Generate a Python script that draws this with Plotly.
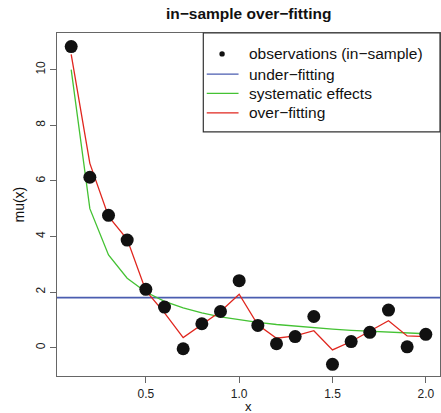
import plotly.graph_objects as go

x_vals = [0.1, 0.2, 0.3, 0.4, 0.5, 0.6, 0.7, 0.8, 0.9, 1.0,
          1.1, 1.2, 1.3, 1.4, 1.5, 1.6, 1.7, 1.8, 1.9, 2.0]
observations = [10.83, 6.13, 4.76, 3.87, 2.10, 1.46, -0.04, 0.86, 1.30, 2.41,
                0.80, 0.14, 0.40, 1.12, -0.60, 0.22, 0.55, 1.35, 0.03, 0.48]
systematic = [10.0, 5.0, 3.333, 2.5, 2.0, 1.667, 1.429, 1.25, 1.111, 1.0,
              0.909, 0.833, 0.769, 0.714, 0.667, 0.625, 0.588, 0.556, 0.526, 0.5]
over_fit = [10.55, 6.63, 4.72, 3.90, 2.05, 1.25, 0.36, 0.82, 1.30, 1.92,
            0.82, 0.34, 0.42, 0.61, -0.08, 0.22, 0.61, 0.97, 0.42, 0.40]
under_fit_level = 1.80
x_ticks = [0.5, 1.0, 1.5, 2.0]
y_ticks = [0, 2, 4, 6, 8, 10]
legend_labels = ["observations (in\u2212sample)", "under\u2212fitting",
                 "systematic effects", "over\u2212fitting"]

FONT = "Liberation Sans, Arial, Helvetica, sans-serif"
BLUE = "#4a5db0"
GREEN = "#44c233"
RED = "#e0261e"
legend_colors = [None, BLUE, GREEN, RED]

fig = go.Figure()
fig.add_trace(go.Scatter(x=[0.024, 2.076], y=[under_fit_level, under_fit_level],
                         mode="lines", line=dict(color=BLUE, width=1.6),
                         name=legend_labels[1], showlegend=False))
fig.add_trace(go.Scatter(x=x_vals, y=systematic, mode="lines",
                         line=dict(color=GREEN, width=1.3),
                         name=legend_labels[2], showlegend=False))
fig.add_trace(go.Scatter(x=x_vals, y=over_fit, mode="lines",
                         line=dict(color=RED, width=1.3),
                         name=legend_labels[3], showlegend=False))
fig.add_trace(go.Scatter(x=x_vals, y=observations, mode="markers",
                         marker=dict(color="#111111", size=13),
                         name=legend_labels[0], showlegend=False))

axis_common = dict(showline=True, linecolor="#666666", linewidth=1.3, mirror=True,
                   ticks="outside", ticklen=6, tickcolor="#666666", tickwidth=1.3,
                   showgrid=False, zeroline=False,
                   tickfont=dict(family=FONT, size=12, color="#222222"))

# manual legend (box, keys, labels) in paper coordinates
row_y = [0.939, 0.880, 0.824, 0.767]
shapes = [dict(type="rect", xref="paper", yref="paper",
               x0=0.382, x1=1.0, y0=0.712, y1=1.0,
               line=dict(color="#333333", width=1.2))]
annotations = []
for i, (lab, col) in enumerate(zip(legend_labels, legend_colors)):
    if col is None:
        shapes.append(dict(type="circle", xref="paper", yref="paper",
                           xsizemode="pixel", ysizemode="pixel",
                           xanchor=0.431, yanchor=row_y[i],
                           x0=-2.7, x1=2.7, y0=-2.7, y1=2.7,
                           fillcolor="#111111", line=dict(width=0)))
    else:
        shapes.append(dict(type="line", xref="paper", yref="paper",
                           x0=0.391, x1=0.474, y0=row_y[i], y1=row_y[i],
                           line=dict(color=col, width=1.3)))
    annotations.append(dict(text=lab, xref="paper", yref="paper", x=0.495, y=row_y[i],
                            xanchor="left", yanchor="middle", showarrow=False,
                            font=dict(family=FONT, size=15.5, color="#111111")))

annotations += [
    dict(text="<b>in\u2212sample over\u2212fitting</b>", xref="paper", yref="paper",
         x=0.5, y=1, yshift=20, xanchor="center", yanchor="middle", showarrow=False,
         font=dict(family=FONT, size=15.5, color="#111111")),
    dict(text="x", xref="paper", yref="paper", x=0.5, y=0, yshift=-30,
         xanchor="center", yanchor="middle", showarrow=False,
         font=dict(family=FONT, size=13, color="#111111")),
    dict(text="mu(x)", xref="paper", yref="paper", x=0, y=0.5, xshift=-39,
         xanchor="center", yanchor="middle", textangle=-90, showarrow=False,
         font=dict(family=FONT, size=14, color="#111111")),
]

fig.update_layout(
    width=441, height=413,
    margin=dict(l=57, r=1, t=33, b=37),
    plot_bgcolor="white", paper_bgcolor="white",
    xaxis=dict(range=[0.024, 2.076], tickvals=x_ticks,
               ticktext=["0.5", "1.0", "1.5", "2.0"], **axis_common),
    yaxis=dict(range=[-1.02, 11.32], tickvals=y_ticks, tickangle=-90, **axis_common),
    showlegend=False,
    shapes=shapes,
    annotations=annotations,
)

fig.write_html("out.html")
